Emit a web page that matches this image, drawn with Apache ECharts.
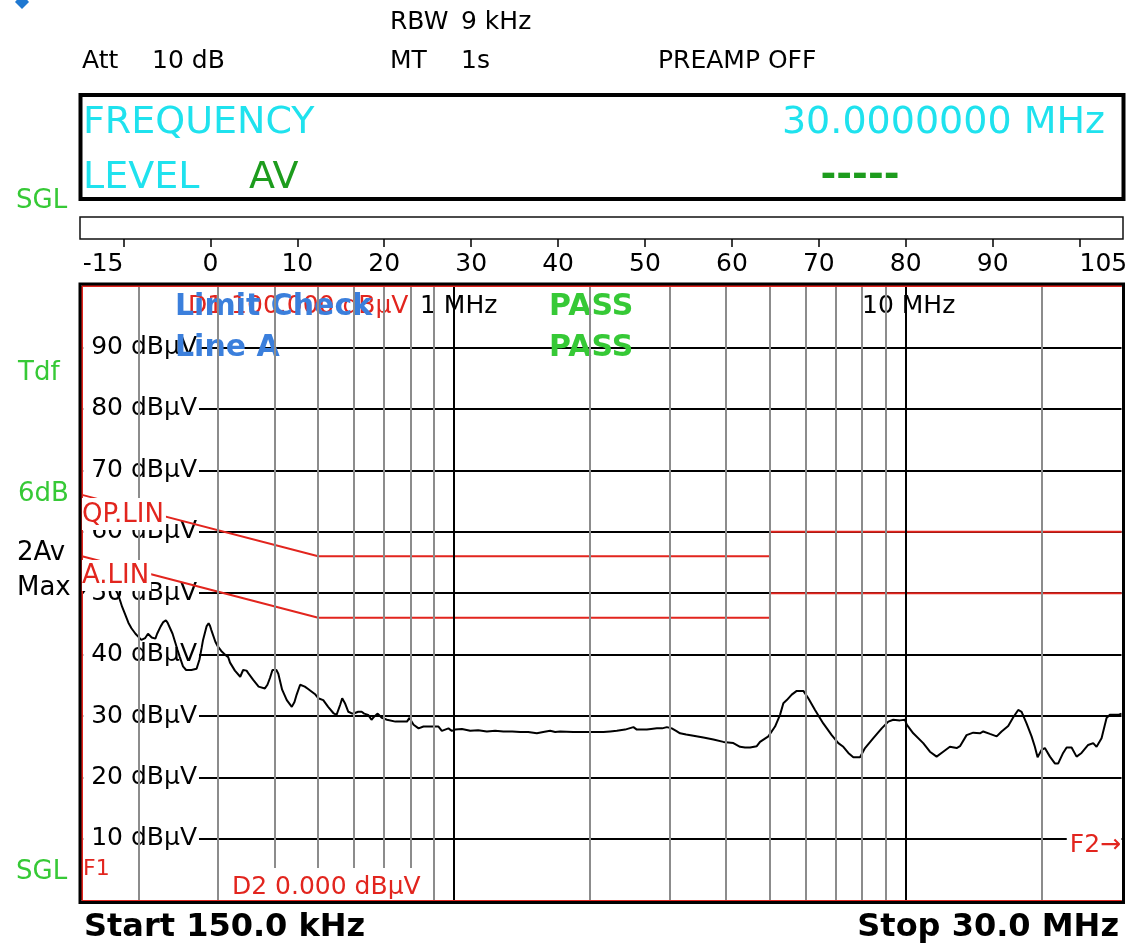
<!DOCTYPE html>
<html><head><meta charset="utf-8">
<script src="https://cdn.jsdelivr.net/npm/echarts@6/dist/echarts.min.js"></script>
<style>html,body{margin:0;padding:0;background:#fff;}#c{width:1128px;height:950px;}</style>
</head><body><div id="c"></div>
<script>
// ---- data ----
const freqMHz = [0.150,0.153,0.161,0.169,0.177,0.180,0.182,0.184,0.187,0.190,
0.193,0.197,0.200,0.203,0.207,0.210,0.214,0.218,0.220,0.224,
0.227,0.230,0.232,0.235,0.238,0.241,0.244,0.247,0.251,0.255,
0.262,0.269,0.273,0.276,0.278,0.283,0.286,0.288,0.290,0.296,
0.300,0.305,0.311,0.316,0.319,0.327,0.336,0.341,0.347,0.350,
0.359,0.369,0.381,0.386,0.391,0.396,0.400,0.404,0.408,0.416,
0.426,0.437,0.443,0.448,0.456,0.467,0.475,0.483,0.493,0.500,
0.513,0.526,0.540,0.549,0.559,0.565,0.573,0.583,0.595,0.603,
0.613,0.624,0.632,0.645,0.656,0.665,0.677,0.692,0.710,0.741,
0.786,0.796,0.813,0.834,0.855,0.923,0.939,0.971,0.988,1.005,
1.040,1.085,1.130,1.181,1.232,1.285,1.344,1.400,1.458,1.524,
1.574,1.631,1.673,1.716,1.834,1.966,2.140,2.214,2.291,2.389,
2.493,2.537,2.669,2.728,2.809,2.886,2.956,3.031,3.099,3.162,
3.262,3.385,3.561,3.748,3.943,4.149,4.293,4.404,4.518,4.675,
4.753,4.959,5.131,5.263,5.353,5.447,5.587,5.731,5.927,6.079,
6.291,6.561,6.849,7.084,7.267,7.454,7.647,7.912,8.117,8.468,
8.837,9.140,9.374,9.698,9.949,10.04,10.38,10.92,11.30,11.69,
12.09,12.51,12.95,13.17,13.62,14.09,14.58,14.83,15.34,15.88,
16.28,16.84,17.28,17.72,18.03,18.49,18.97,19.29,19.56,19.96,
20.30,20.83,21.36,21.73,22.28,22.68,23.26,23.86,24.47,25.31,
25.97,26.42,27.10,27.80,28.27,29.49,30.0];
const levelDbuV = [49.9,50.7,51.4,51.5,50.9,49.9,48.9,47.8,46.5,45.2,
44.3,43.4,42.9,42.4,42.7,43.4,42.8,42.6,43.4,44.6,
45.3,45.6,45.2,44.3,43.4,42.1,40.8,39.6,38.1,37.5,
37.5,37.7,39.2,41.1,42.4,44.6,45.1,44.7,44.0,42.1,
41.3,40.6,40.0,39.6,38.7,37.4,36.4,37.5,37.4,37.0,
35.9,34.8,34.5,35.1,36.2,37.5,37.8,37.5,36.9,34.3,
32.6,31.5,32.3,33.5,35.1,34.8,34.4,34.0,33.5,32.9,
32.6,31.5,30.5,30.2,31.8,32.9,32.1,30.7,30.4,30.5,
30.7,30.7,30.4,30.2,29.4,29.9,30.4,29.7,29.4,29.1,
29.1,29.7,28.6,28.0,28.3,28.3,27.6,28.0,27.6,27.8,
27.9,27.6,27.7,27.5,27.6,27.5,27.5,27.4,27.4,27.2,
27.4,27.6,27.4,27.5,27.4,27.4,27.4,27.5,27.6,27.8,
28.2,27.8,27.8,27.9,28.0,28.0,28.2,28.0,27.6,27.2,
27.0,26.8,26.5,26.2,25.8,25.6,25.0,24.9,24.9,25.1,
25.8,26.7,28.3,30.2,32.1,32.6,33.5,34.1,34.1,32.9,
31.0,28.8,26.9,25.6,25.0,24.0,23.3,23.3,24.8,26.4,
28.0,29.1,29.4,29.3,29.4,28.6,27.2,25.6,24.2,23.4,
24.2,25.0,24.8,25.1,26.9,27.3,27.2,27.5,27.1,26.7,
27.5,28.4,29.8,31.0,30.7,28.8,26.7,25.0,23.3,24.5,
24.8,23.4,22.3,22.3,24.0,24.9,24.9,23.4,24.0,25.3,
25.6,25.0,26.4,29.7,30.2,30.2,30.4];
const qpLimitFreq = [0.15, 0.5, 5, 5, 30];
const qpLimitLevel = [66, 56, 56, 60, 60];
const avLimitFreq = [0.15, 0.5, 5, 5, 30];
const avLimitLevel = [56, 46, 46, 50, 50];
const minorGridFreq = [0.2,0.3,0.4,0.5,0.6,0.7,0.8,0.9,2,3,4,5,6,7,8,9,20];
const decadeGridFreq = [1, 10];
const levelAxisMin = 0, levelAxisMax = 100, levelAxisStep = 10;
const displayLineD1 = 100, displayLineD2 = 0, startFreq = 0.15, stopFreq = 30;
const scaleLabels = ['-15','0','10','20','30','40','50','60','70','80','90','105'];

// ---- styling ----
const FF = 'DejaVu Sans';
const RED = '#e2251e', BLUE = '#3b7fdc', GREEN = '#36c936', DGREEN = '#1d9c1d', CYAN = '#1fe2ee', GRAY = '#8c8c8c';

function txt(text, x, y, o) {
  o = o || {};
  const st = {
    text: text, fill: o.color || '#000', fontFamily: FF,
    fontSize: o.size || 25, fontWeight: o.weight || 'normal',
    align: o.align || 'left', textAlign: o.align || 'left',
    verticalAlign: o.va || 'middle', textVerticalAlign: o.va || 'middle'
  };
  if (o.bg) { st.backgroundColor = o.bg; st.padding = o.pad || [2,2,2,2]; st.lineHeight = o.lh || (o.size || 25); }
  return { type: 'text', x: x, y: y, z: (o.z === undefined ? 10 : o.z), silent: true, style: st };
}

const chart = echarts.init(document.getElementById('c'), null, { renderer: 'canvas' });

const graphics = [
  // top-left marker
  { type: 'polygon', z: 10, shape: { points: [[22,-6],[29,2],[22,9],[15,2]] }, style: { fill: '#1f78d1' } },
  txt('RBW', 390, 22.5), txt('9 kHz', 461, 22.5),
  txt('Att', 82, 61.5), txt('10 dB', 152, 61.5),
  txt('MT', 390, 61.5), txt('1s', 461, 61.5),
  txt('PREAMP OFF', 658, 61.5),
  { type: 'rect', z: 10, shape: { x: 80.5, y: 95, width: 1043, height: 104 }, style: { fill: 'none', stroke: '#000', lineWidth: 4 } },
  txt('FREQUENCY', 83, 123, { size: 38, color: CYAN }),
  txt('30.0000000 MHz', 1105, 123, { size: 38, color: CYAN, align: 'right' }),
  txt('LEVEL', 83, 178, { size: 38, color: CYAN }),
  txt('AV', 249, 178, { size: 38, color: DGREEN }),
  txt('-----', 860, 176, { size: 38, color: DGREEN, weight: 'bold', align: 'center' }),
  txt('SGL', 16, 201, { size: 26, color: GREEN }),
  txt('Tdf', 18, 373, { size: 26, color: GREEN }),
  txt('6dB', 18, 494, { size: 26, color: GREEN }),
  txt('2Av', 17, 553, { size: 26 }),
  txt('Max', 17, 588, { size: 26 }),
  txt('SGL', 16, 872, { size: 26, color: GREEN }),
  txt('Start 150.0 kHz', 84, 928, { size: 32, weight: 'bold' }),
  txt('Stop 30.0 MHz', 1119, 928, { size: 32, weight: 'bold', align: 'right' }),
  // diagram frame (black outside, red display lines inside)
  { type: 'rect', z: 10, silent: true, shape: { x: 80, y: 284, width: 1043.5, height: 618.4 }, style: { fill: 'none', stroke: '#000', lineWidth: 3 } },
  // frequency labels with background (above grid lines, below text)
  txt('1 MHz', 406, 288, { va: 'top', bg: '#fff', pad: [5.5, 3, 0, 14], z: 2.5 }),
  txt('10 MHz', 857, 288, { va: 'top', bg: '#fff', pad: [5.5, 3, 0, 5], z: 2.5 }),
  // labels inside the diagram
  txt('D1 100.000 dBµV', 188, 306, { color: RED, z: 2.8 }),
  txt('Limit Check', 175, 307, { size: 30, weight: 'bold', color: BLUE, z: 2.9 }),
  txt('Line A', 175, 348, { size: 30, weight: 'bold', color: BLUE, z: 2.9 }),
  txt('PASS', 549, 307, { size: 30, weight: 'bold', color: GREEN, z: 2.9 }),
  txt('PASS', 549, 348, { size: 30, weight: 'bold', color: GREEN, z: 2.9 }),
  // limit line and marker labels with background
  txt('QP.LIN', 82, 498, { size: 26, color: RED, va: 'top', bg: '#fff', pad: [4, 2, 2, 0] }),
  txt('A.LIN', 82, 560, { size: 26, color: RED, va: 'top', bg: '#fff', pad: [3, 2, 2, 0] }),
  txt('F1', 83, 869, { size: 22, color: RED }),
  txt('D2 0.000 dBµV', 230, 868, { color: RED, va: 'top', bg: '#fff', pad: [7, 2, 0, 2] }),
  txt('F2\u2192', 1121, 831, { color: RED, va: 'top', align: 'right', bg: '#fff', pad: [2, 0, 2, 3] })
];

const option = {
  animation: false,
  backgroundColor: '#fff',
  textStyle: { fontFamily: FF },
  grid: [
    { left: 82, right: 6.5, top: 286, bottom: 49.6, show: false, outerBoundsMode: 'none' },
    { left: 80, right: 5, top: 217, height: 22, show: true, borderColor: '#111', borderWidth: 1.5, backgroundColor: '#fff', outerBoundsMode: 'none' }
  ],
  xAxis: [
    { type: 'log', logBase: 10, min: startFreq, max: stopFreq, gridIndex: 0,
      axisLine: { show: false }, axisTick: { show: false }, axisLabel: { show: false }, splitLine: { show: false } },
    { type: 'category', gridIndex: 1, data: scaleLabels, position: 'bottom',
      axisLine: { show: false },
      axisTick: { show: true, alignWithLabel: true, length: 8, lineStyle: { color: '#000', width: 1.5 } },
      axisLabel: { interval: 0, fontSize: 25, color: '#000', fontFamily: FF, margin: 12.5, alignMinLabel: 'right', alignMaxLabel: 'left' },
      splitLine: { show: false } }
  ],
  yAxis: [
    { type: 'value', gridIndex: 0, min: levelAxisMin, max: levelAxisMax, interval: levelAxisStep, z: 0,
      axisLine: { show: false }, axisTick: { show: false }, axisLabel: { show: false },
      splitLine: { show: true, lineStyle: { color: '#000', width: 2 } } },
    { type: 'value', gridIndex: 0, min: levelAxisMin, max: levelAxisMax, interval: levelAxisStep, z: 2,
      position: 'left', axisLine: { show: false }, axisTick: { show: false }, splitLine: { show: false },
      axisLabel: { show: true, inside: true, align: 'right', margin: 117, fontSize: 25, color: '#000', fontFamily: FF,
        backgroundColor: '#fff', padding: [3, 2, 3, 8], lineHeight: 26,
        formatter: function (v) { return (v > levelAxisMin && v < levelAxisMax) ? v + ' dBµV' : ''; } } },
    { type: 'value', gridIndex: 1, min: 0, max: 1, show: false }
  ],
  series: [
    { name: 'grid', type: 'line', xAxisIndex: 0, yAxisIndex: 0, z: 1, data: [], silent: true,
      markLine: { silent: true, symbol: 'none', animation: false, label: { show: false },
        data: minorGridFreq.map(f => ({ xAxis: f, lineStyle: { color: GRAY, width: 2, type: 'solid' } }))
          .concat(decadeGridFreq.map(f => ({ xAxis: f, lineStyle: { color: '#000', width: 2, type: 'solid' } }))) } },
    { name: 'trace', type: 'line', xAxisIndex: 0, yAxisIndex: 0, z: 3, showSymbol: false, symbol: 'none',
      lineStyle: { color: '#000', width: 2 }, data: freqMHz.map((f, i) => [f, levelDbuV[i]]) },
    { name: 'QP.LIN', type: 'line', xAxisIndex: 0, yAxisIndex: 0, z: 4, showSymbol: false, symbol: 'none',
      lineStyle: { color: RED, width: 2 }, data: qpLimitFreq.map((f, i) => [f, qpLimitLevel[i]]) },
    { name: 'A.LIN', type: 'line', xAxisIndex: 0, yAxisIndex: 0, z: 4, showSymbol: false, symbol: 'none',
      lineStyle: { color: RED, width: 2 }, data: avLimitFreq.map((f, i) => [f, avLimitLevel[i]]) },
    { name: 'display', type: 'line', xAxisIndex: 0, yAxisIndex: 0, z: 5, data: [], silent: true,
      markLine: { silent: true, symbol: 'none', animation: false, label: { show: false },
        lineStyle: { color: RED, width: 2, type: 'solid' },
        data: [{ yAxis: displayLineD1 }, { yAxis: displayLineD2 }, { xAxis: startFreq }] } }
  ],
  graphic: { elements: graphics }
};
chart.setOption(option);
</script>
</body></html>
